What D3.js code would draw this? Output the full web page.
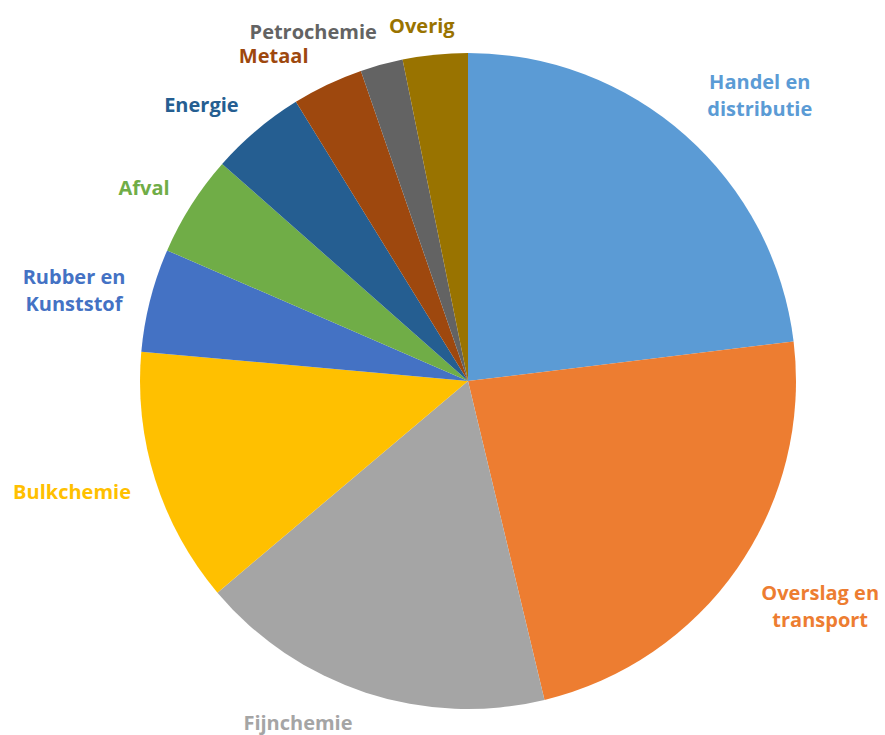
<!DOCTYPE html>
<html>
<head>
<meta charset="utf-8">
<script src="https://cdn.jsdelivr.net/npm/d3@7"></script>
<style>
  html, body { margin: 0; padding: 0; background: #fff; }
  svg { display: block; }
  .lbl { font-family: "Open Sans", "DejaVu Sans", sans-serif; font-weight: bold; font-size: 20px; }
</style>
</head>
<body>
<div id="chart"></div>
<script>
// sector shares (percent), clockwise from 12 o'clock
const sectors = ["Handel en distributie", "Overslag en transport", "Fijnchemie", "Bulkchemie",
    "Rubber en Kunststof", "Afval", "Energie", "Metaal", "Petrochemie", "Overig"];
const shares = [23.1, 23.2, 17.6, 12.6, 5.1, 5.0, 4.7, 3.5, 2.1, 3.2];
const labelLines = [["Handel en", "distributie"], ["Overslag en", "transport"], ["Fijnchemie"], ["Bulkchemie"],
    ["Rubber en", "Kunststof"], ["Afval"], ["Energie"], ["Metaal"], ["Petrochemie"], ["Overig"]];
const colors = ["#5B9BD5", "#ED7D31", "#A5A5A5", "#FFC000", "#4472C4", "#70AD47", "#255E91", "#9E480E", "#636363", "#997300"];

const svgWidth = 885;
const svgHeight = 735;
const cx = 468, cy = 381;
const radius = 328;

// small label nudges (px) to mimic Excel's placement
const nudges = [[0, -15], [-3, 20], [-3, -1], [7, 2], [7, -1], [6, 1], [3, 0], [-5, 1], [4, -1], [-10, 4]];

const data = sectors.map((s, i) => ({ name: s, value: shares[i], lines: labelLines[i], color: colors[i], nudge: nudges[i] }));

const svg = d3.select("#chart")
    .append("svg")
    .attr("width", svgWidth)
    .attr("height", svgHeight);

const g = svg.append("g").attr("transform", `translate(${cx},${cy})`);

const pie = d3.pie().sort(null).value(d => d.value);
const arc = d3.arc().innerRadius(0).outerRadius(radius);
const arcs = pie(data);

g.selectAll("path.slice")
    .data(arcs)
    .join("path")
    .attr("class", "slice")
    .attr("fill", d => d.data.color)
    .attr("d", arc);

// labels just outside the rim, anchored by side
const labelR = radius * 1.1;
const lineH = 27;

arcs.forEach(d => {
    const mid = (d.startAngle + d.endAngle) / 2;
    const px = labelR * Math.sin(mid);
    const py = -labelR * Math.cos(mid);
    const s = Math.sin(mid);
    const t = g.append("text")
        .attr("class", "lbl")
        .attr("fill", d.data.color)
        .attr("text-anchor", "middle");
    d.data.lines.forEach((ln, i) => {
        t.append("tspan").attr("x", 0).attr("y", (i - (d.data.lines.length - 1) / 2) * lineH).attr("dy", "0.35em").text(ln);
    });
    const w = t.node().getBBox().width;
    let ox = px;
    if (Math.abs(s) > 0.15) ox = px + (s > 0 ? w / 2 : -w / 2);
    t.attr("transform", `translate(${ox + d.data.nudge[0]},${py + d.data.nudge[1]})`);
});
</script>
</body>
</html>
